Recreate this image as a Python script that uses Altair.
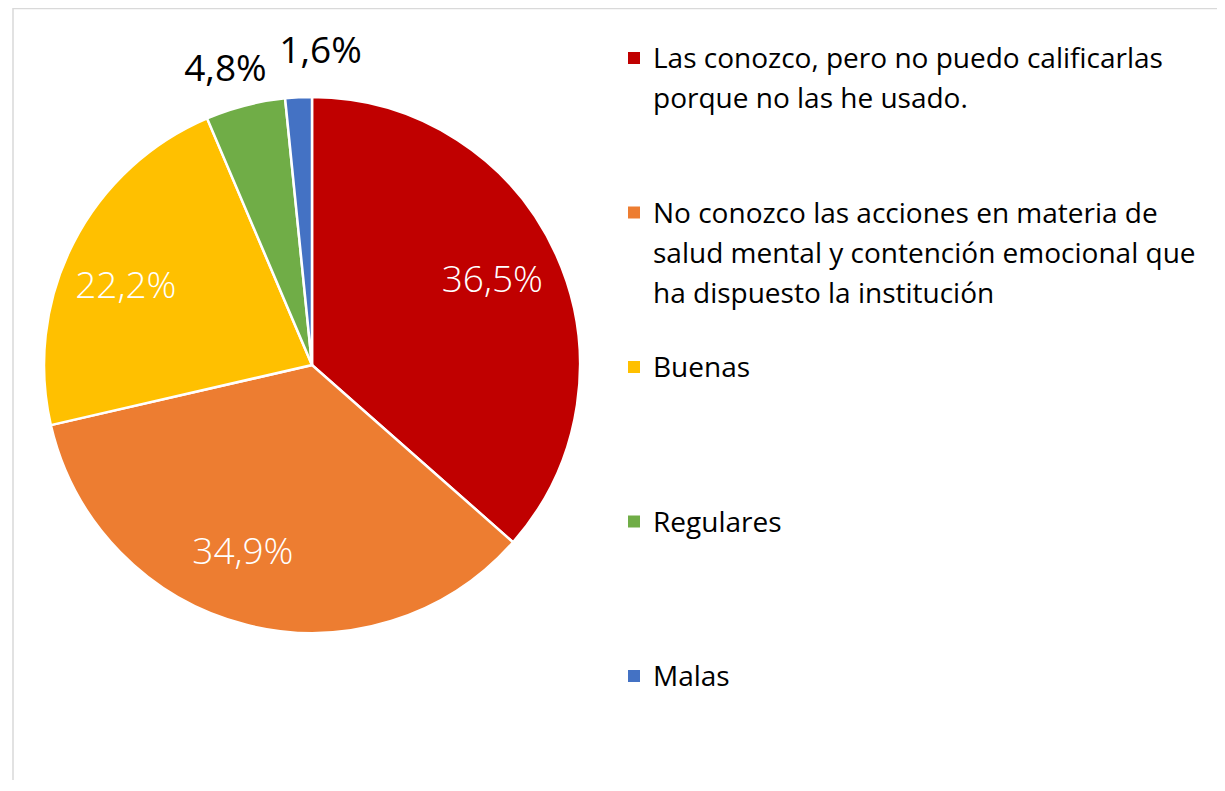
import altair as alt
import pandas as pd

categories = [
    "Las conozco, pero no puedo calificarlas porque no las he usado.",
    "No conozco las acciones en materia de salud mental y contención emocional que ha dispuesto la institución",
    "Buenas",
    "Regulares",
    "Malas",
]
legend_lines = [
    ["Las conozco, pero no puedo calificarlas", "porque no las he usado."],
    ["No conozco las acciones en materia de", "salud mental y contención emocional que", "ha dispuesto la institución"],
    ["Buenas"],
    ["Regulares"],
    ["Malas"],
]
values = [36.5, 34.9, 22.2, 4.8, 1.6]
colors = ["#C00000", "#ED7D31", "#FFC000", "#70AD47", "#4472C4"]

df = pd.DataFrame({
    "category": categories,
    "value": values,
    "idx": list(range(len(categories))),
    "legend": ["\n".join(l) for l in legend_lines],
})

W, H = 1209, 772
CX, CY, R = 304, 357, 268
FONT = "Open Sans"

color = alt.Color("category:N", scale=alt.Scale(domain=categories, range=colors), legend=None)
theta_scale = alt.Scale(domain=[0, 100])

base = alt.Chart(df)

pie = base.mark_arc(outerRadius=R, stroke="white", strokeWidth=2.5).encode(
    theta=alt.Theta("value:Q", stack=True, scale=theta_scale),
    order=alt.Order("idx:Q"),
    color=color,
    x=alt.value(CX),
    y=alt.value(CY),
)

lab_base = base.transform_window(
    cum="sum(value)", sort=[alt.SortField("idx")], frame=[None, 0]
).transform_calculate(
    mid="datum.cum - datum.value / 2",
    lbl="replace(format(datum.value, '.1f'), '.', ',') + '%'",
)


def label(i, radius, dx, dy, fill, weight):
    return lab_base.transform_filter(f"datum.idx == {i}").mark_text(
        radius=radius, dx=dx, dy=dy, fontSize=37, font=FONT, fontWeight=weight,
        color=fill, align="center", baseline="middle",
    ).encode(
        theta=alt.Theta("mid:Q", stack=None, scale=theta_scale),
        text="lbl:N",
        x=alt.value(CX),
        y=alt.value(CY),
    )


labels = [
    label(0, 200, -2, -2, "white", 300),
    label(1, 200, -20, -6, "white", 300),
    label(2, 200, -8, 13, "white", 300),
    label(3, 308, -10, 3, "#000000", 400),
    label(4, 308, 24, -5, "#000000", 400),
]

leg_y = alt.Y("category:N", scale=alt.Scale(type="point", domain=categories, range=[50, 668], padding=0), axis=None)

leg_sym = base.mark_point(shape="square", filled=True, size=144, opacity=1).encode(
    x=alt.value(626), y=leg_y, color=color,
)
leg_txt = base.mark_text(
    align="left", baseline="top", dy=-12, fontSize=28, font=FONT, lineBreak="\n",
    lineHeight=40, color="#000000",
).encode(x=alt.value(645), y=leg_y, text="legend:N")

one = alt.Chart(pd.DataFrame({"a": [0]}))
border_left = one.mark_rule(color="#d9d9d9", strokeWidth=1.5).encode(
    x=alt.value(5), y=alt.value(0), y2=alt.value(H)
)
border_top = one.mark_rule(color="#d9d9d9", strokeWidth=1.5).encode(
    x=alt.value(5), x2=alt.value(W), y=alt.value(0.5)
)

chart = alt.layer(border_left, border_top, pie, *labels, leg_sym, leg_txt).properties(
    width=W, height=H, padding=0, autosize=alt.AutoSizeParams(type="none"),
    background="white",
).configure_view(stroke=None)

chart.save("out.html", embed_options={"renderer": "svg", "actions": False})
